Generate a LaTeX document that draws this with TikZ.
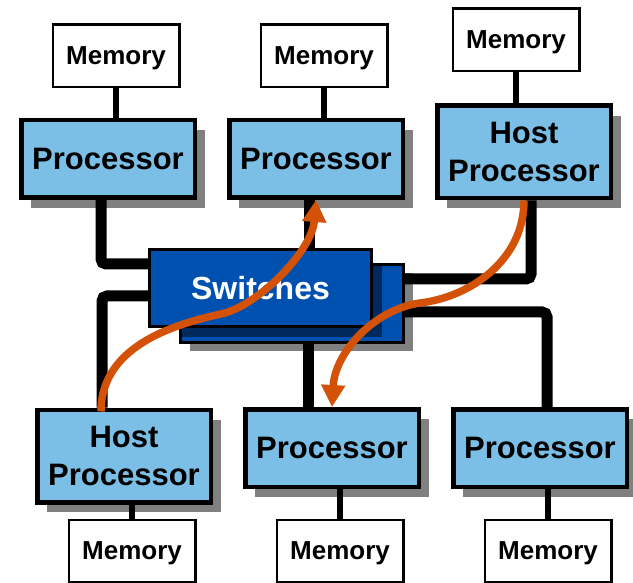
\documentclass[tikz,border=0pt]{standalone}
\usepackage{fontspec}
\setmainfont{Liberation Sans}
\usetikzlibrary{shadows,arrows.meta}

\definecolor{procblue}{RGB}{124,191,230}
\definecolor{swblue}{RGB}{0,80,176}
\definecolor{swdark}{RGB}{0,42,94}
\definecolor{flowred}{RGB}{212,82,8}
\definecolor{shadowgray}{RGB}{128,128,128}

\tikzset{
  memory/.style={draw,line width=2.5pt,fill=white,minimum width=126.5pt,minimum height=62.5pt,
    text depth=0pt,font=\fontsize{26}{30}\selectfont\bfseries},
  proc/.style={draw,line width=4.5pt,fill=procblue,minimum width=173.5pt,minimum height=77.5pt,
    align=center,text depth=0pt,font=\fontsize{31}{38}\selectfont\bfseries,
    general shadow={fill=shadowgray,shadow xshift=10pt,shadow yshift=-10pt}},
  hostproc/.style={proc,minimum height=92.5pt},
  switchbox/.style={draw,line width=3pt,fill=swblue,minimum width=222pt,minimum height=77pt,text depth=0pt},
  bus/.style={line width=11pt,rounded corners=5pt},
  memlink/.style={line width=6pt},
  flow/.style={flowred,line width=7.5pt,-{Triangle[length=22pt,width=23pt]}}
}

\begin{document}
\begin{tikzpicture}[x=1pt,y=-1pt]
  \useasboundingbox (0,0) rectangle (633,583);

  % top row
  \node[memory] (mem1) at (116,56) {Memory};
  \node[memory] (mem2) at (324,56) {Memory};
  \node[memory] (mem3) at (516,40) {Memory};
  \node[proc] (proc1) at (108,159) {Processor};
  \node[proc] (proc2) at (316,159) {Processor};
  \node[hostproc] (host1) at (524,152) {Host\\Processor};

  % bottom row
  \node[hostproc] (host2) at (124,456) {Host\\Processor};
  \node[proc] (proc3) at (332,448) {Processor};
  \node[proc] (proc4) at (540,448) {Processor};
  \node[memory] (mem4) at (132,551) {Memory};
  \node[memory] (mem5) at (340,551) {Memory};
  \node[memory] (mem6) at (548,551) {Memory};

  % switches, two boxes
  \node[switchbox,minimum width=223pt,minimum height=78pt,
    general shadow={fill=shadowgray,shadow xshift=9pt,shadow yshift=-9pt}] (back) at (292,303.5) {};
  \fill[swdark] ([shift={(3,3)}]back.north west) rectangle (382,337);
  \node[switchbox,text=white,font=\fontsize{32}{36}\selectfont\bfseries] (switch) at (260.5,288) {Switches};

  % memory links
  \draw[memlink] (mem1.south) -- (mem1.south |- proc1.north);
  \draw[memlink] (mem2.south) -- (mem2.south |- proc2.north);
  \draw[memlink] (mem3.south) -- (mem3.south |- host1.north);
  \draw[memlink] (mem4.north) -- (mem4.north |- host2.south);
  \draw[memlink] (mem5.north) -- (mem5.north |- proc3.south);
  \draw[memlink] (mem6.north) -- (mem6.north |- proc4.south);

  % buses to the switches
  \coordinate (p2bus) at ([xshift=-7pt]proc2.south);
  \coordinate (p3bus) at ([xshift=-24pt]proc3.north);
  \draw[bus] ([xshift=-7pt]proc1.south) |- ([yshift=24pt]switch.west);
  \draw[bus] ([xshift=-22pt]host2.north) |- ([yshift=-8pt]switch.west);
  \draw[bus] (p2bus) -- (p2bus |- switch.north);
  \draw[bus] ([xshift=7pt]host1.south) |- ([yshift=24.5pt]back.east);
  \draw[bus] ([yshift=-8.5pt]back.east) -| ([xshift=7pt]proc4.north);
  \draw[bus] (p3bus) -- (p3bus |- back.south);

  % data flow
  \coordinate (a1start) at ([xshift=-23pt,yshift=-4pt]host2.north);
  \coordinate (a1mid) at (225,313);
  \coordinate (a2mid) at (420,303);
  \draw[flow] (a1start) .. controls +(0,-70) and +(-40,9) .. (a1mid)
    .. controls +(37,-11) and +(-4,50) .. (proc2.south);
  \draw[flow] (host1.south) .. controls +(0,60) and +(50,-6) .. (a2mid)
    .. controls +(-45,6) and +(3,-55) .. (proc3.north);
\end{tikzpicture}
\end{document}
